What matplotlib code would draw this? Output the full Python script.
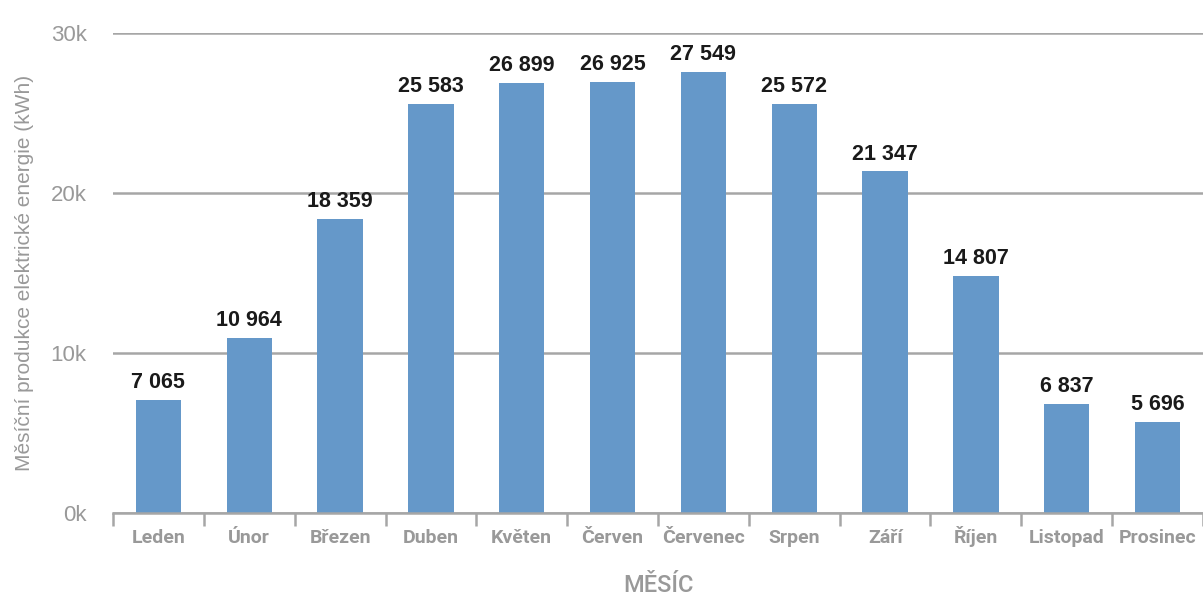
import matplotlib
matplotlib.use("Agg")
import matplotlib.pyplot as plt
from matplotlib.ticker import FuncFormatter, FixedLocator
from matplotlib.transforms import blended_transform_factory

months = ["Leden", "Únor", "Březen", "Duben", "Květen", "Červen",
          "Červenec", "Srpen", "Září", "Říjen", "Listopad", "Prosinec"]
production = [7065, 10964, 18359, 25583, 26899, 26925,
              27549, 25572, 21347, 14807, 6837, 5696]
y_ticks = [0, 10000, 20000, 30000]

BAR = "#6598c9"
GRID = "#a6a6a6"
TEXT_GRAY = "#999999"
SANS = ["Liberation Sans", "DejaVu Sans"]
CAT = ["Roboto", "DejaVu Sans"]

plt.rcParams["font.family"] = SANS

W, H = 1203, 595
fig = plt.figure(figsize=(W / 100, H / 100), dpi=100)
ax = fig.add_axes([113 / W, 1 - 513 / H, 1 - 113 / W, (513 - 33) / H])

x = list(range(len(months)))
ax.bar(x, production, width=0.5, color=BAR, zorder=3)

for xi, v in zip(x, production):
    ax.annotate(f"{v:,}".replace(",", " "), (xi, v), xytext=(0, 5),
                textcoords="offset points", ha="center", va="bottom",
                fontsize=15.5, fontweight="bold", color="#1a1a1a", zorder=4)

ax.set_xlim(-0.5, len(months) - 0.5)
ax.set_ylim(0, 30000)

ax.yaxis.set_major_locator(FixedLocator(y_ticks))
ax.yaxis.set_major_formatter(FuncFormatter(lambda v, _: f"{int(v / 1000)}k"))
ax.grid(axis="y", color=GRID, linewidth=1.8, zorder=0)
ax.tick_params(axis="y", length=0, pad=19, labelsize=16, labelcolor=TEXT_GRAY)

# month names on a common baseline, tick marks at category boundaries
ax.set_xticks([])
ax.set_xticks([i - 0.5 for i in range(len(months) + 1)], minor=True)
ax.tick_params(axis="x", which="minor", length=9, width=1.8, color=GRID,
               direction="out")
trans = blended_transform_factory(ax.transData, ax.transAxes)
for xi, name in zip(x, months):
    ax.text(xi, -30 / 480, name, transform=trans, ha="center", va="baseline",
            fontsize=14, fontweight="bold", color=TEXT_GRAY, family=CAT)

for side in ("top", "right", "left"):
    ax.spines[side].set_visible(False)
ax.spines["bottom"].set_color(GRID)
ax.spines["bottom"].set_linewidth(1.8)
ax.spines["bottom"].set_zorder(5)

ax.set_ylabel("Měsíční produkce elektrické energie (kWh)", fontsize=15,
              color=TEXT_GRAY, labelpad=12)
fig.text(658 / W, 1 - 592 / H, "MĚSÍC", ha="center", va="baseline",
         fontsize=17, fontweight="medium", color=TEXT_GRAY, family=CAT)

fig.savefig("out.png", dpi=100)
